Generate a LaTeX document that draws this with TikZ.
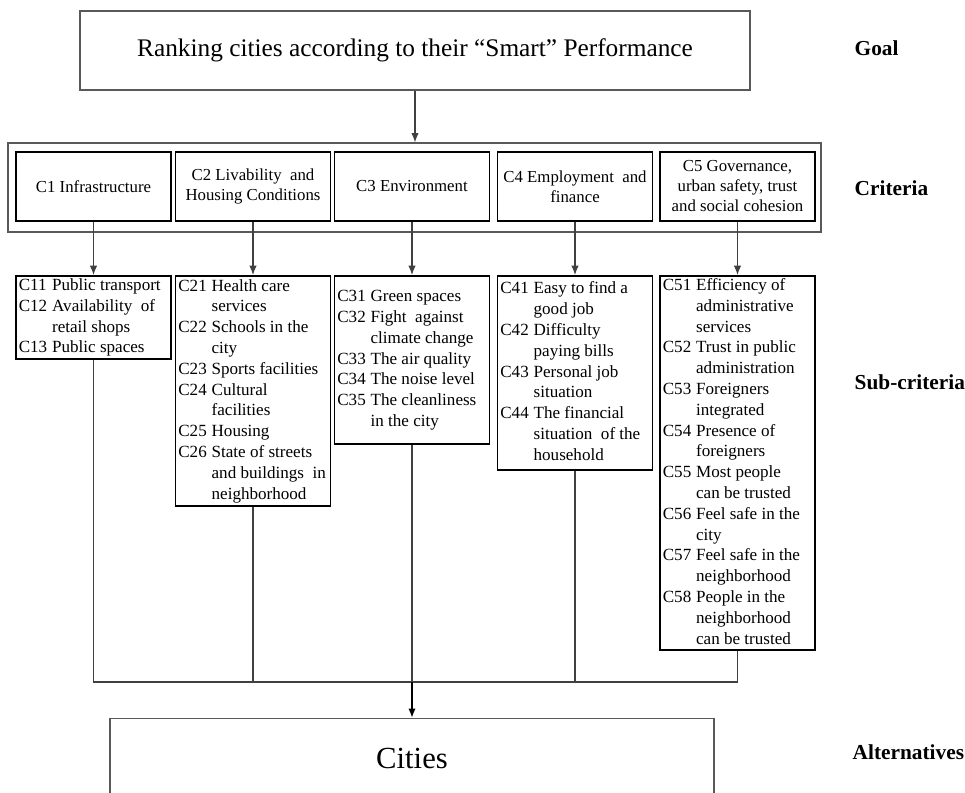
\documentclass[tikz,border=0pt]{standalone}
\usepackage{fontspec}
\setmainfont{Liberation Serif}
\usetikzlibrary{arrows.meta}

\newcommand{\sublist}[1]{\begin{tabular}{@{}p{25pt}@{}p{87pt}@{}}#1\end{tabular}}

\begin{document}
\begin{tikzpicture}[x=0.75pt, y=-0.75pt,
		critbox/.style={draw, line width=1.4pt, minimum width=116.25pt, minimum height=51.75pt, inner sep=0pt, align=center, font=\fontsize{12.6}{15}\selectfont},
		subbox/.style={draw, line width=1.4pt, minimum width=116.25pt, inner sep=0pt, anchor=north, font=\fontsize{12.8}{15.6}\selectfont},
		thinbox/.style={draw=black!65, line width=0.9pt, inner sep=0pt},
		level/.style={anchor=west, font=\fontsize{16}{19}\selectfont\bfseries},
		link/.style={draw=black!75, line width=0.8pt},
		>={Latex[length=7pt, width=5.5pt]}]
		\clip (0,0) rectangle (965,793);
		\coordinate (goal)  at (415,   50.5);
		\coordinate (crit)  at (414.5, 187.5);
		\coordinate (cities) at (412,  718);
		\coordinate (bus)   at (412,   682);

		\node[thinbox, minimum width=502.5pt, minimum height=59.25pt, font=\fontsize{19}{22}\selectfont] (GOAL) at (goal) {Ranking cities according to their “Smart” Performance};
		\node[thinbox, minimum width=609.75pt, minimum height=66.75pt] (CRIT) at (crit) {};

		\node[critbox] (C1) at (93.5,  186.5) {C1 Infrastructure};
		\node[critbox] (C2) at (253,   186.5) {C2 Livability\enspace and\\Housing Conditions};
		\node[critbox] (C3) at (412,   186.5) {C3 Environment};
		\node[critbox] (C4) at (575,   186.5) {C4 Employment\enspace and\\finance};
		\node[critbox] (C5) at (737.5, 186.5) {C5 Governance,\\urban safety, trust\\and social cohesion};

		\node[subbox, minimum height=60.75pt] (S1) at (93.5, 275) {\sublist{
			C11 & Public transport\\ C12 & Availability\enspace of\\ & retail shops\\ C13 & Public spaces}};
		\node[subbox, minimum height=172.5pt] (S2) at (253, 275) {\sublist{
			C21 & Health care\\ & services\\ C22 & Schools in the\\ & city\\ C23 & Sports facilities\\
			C24 & Cultural\\ & facilities\\ C25 & Housing\\ C26 & State of streets\\ & and buildings\enspace in\\ & neighborhood}};
		\node[subbox, minimum height=126pt] (S3) at (412, 275) {\sublist{
			C31 & Green spaces\\ C32 & Fight\enspace against\\ & climate change\\ C33 & The air quality\\
			C34 & The noise level\\ C35 & The cleanliness\\ & in the city}};
		\node[subbox, minimum height=145.5pt] (S4) at (575, 275) {\sublist{
			C41 & Easy to find a\\ & good job\\ C42 & Difficulty\\ & paying bills\\ C43 & Personal job\\
			& situation\\ C44 & The financial\\ & situation\enspace of the\\ & household}};
		\node[subbox, minimum height=279pt] (S5) at (737.5, 275) {\sublist{
			C51 & Efficiency of\\ & administrative\\ & services\\ C52 & Trust in public\\ & administration\\
			C53 & Foreigners\\ & integrated\\ C54 & Presence of\\ & foreigners\\ C55 & Most people\\
			& can be trusted\\ C56 & Feel safe in the\\ & city\\ C57 & Feel safe in the\\ & neighborhood\\
			C58 & People in the\\ & neighborhood\\ & can be trusted}};

		\node[thinbox, anchor=north, minimum width=453pt, minimum height=60pt, font=\fontsize{23}{26}\selectfont] (CIT) at (cities) {Cities};

		\node[level] (GL) at (850, 48)  {Goal};
		\node[level] (CL) at (850, 188) {Criteria};
		\node[level] (SL) at (850, 382) {Sub-criteria};
		\node[level] (AL) at (848, 752) {Alternatives};

		\draw[->, link] (GOAL.south) -- (GOAL.south |- CRIT.north);
		\draw[->, link] (C1.south) -- (S1.north);
		\draw[->, link] (C2.south) -- (S2.north);
		\draw[->, link] (C3.south) -- (S3.north);
		\draw[->, link] (C4.south) -- (S4.north);
		\draw[->, link] (C5.south) -- (S5.north);
		\draw[link] (S1.south) |- (bus);
		\draw[link] (S5.south) |- (bus);
		\draw[link] (S2.south) -- (S2.south |- bus);
		\draw[link] (S3.south) -- (bus);
		\draw[link] (S4.south) -- (S4.south |- bus);
		\draw[->, line width=1.4pt] (bus) -- (CIT.north);
	\end{tikzpicture}
\end{document}
